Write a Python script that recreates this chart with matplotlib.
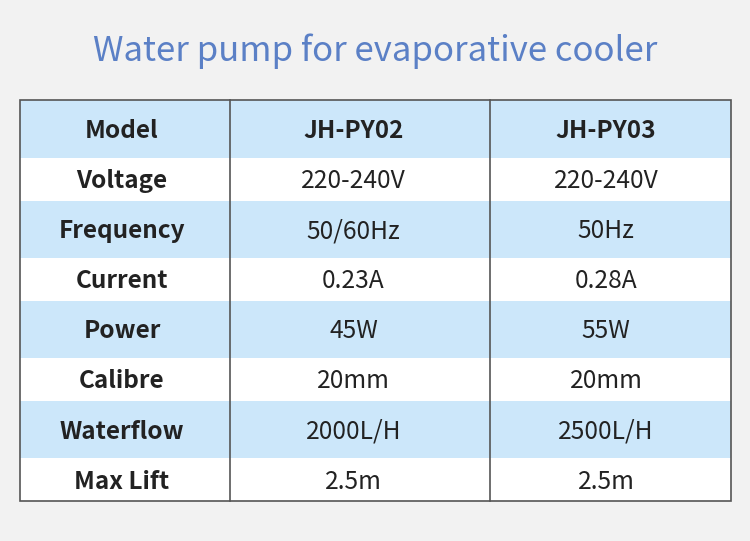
import matplotlib
matplotlib.use("Agg")
import matplotlib.pyplot as plt
from matplotlib.patches import Rectangle

title = "Water pump for evaporative cooler"
header = ["Model", "JH-PY02", "JH-PY03"]
row_labels = ["Voltage", "Frequency", "Current", "Power", "Calibre", "Waterflow", "Max Lift"]
py02 = ["220-240V", "50/60Hz", "0.23A", "45W", "20mm", "2000L/H", "2.5m"]
py03 = ["220-240V", "50Hz", "0.28A", "55W", "20mm", "2500L/H", "2.5m"]

plt.rcParams['font.family'] = ['Noto Sans CJK SC', 'DejaVu Sans']

W, H = 750, 541
fig = plt.figure(figsize=(W / 100, H / 100), dpi=100, facecolor="#F2F2F2")
ax = fig.add_axes([0, 0, 1, 1])
ax.set_xlim(0, W)
ax.set_ylim(H, 0)
ax.axis("off")

left, right = 19.5, 730.5
top, bottom = 99.5, 500.5
col_edges = [left, 229.5, 489.5, right]
text_x = [122, 353.5, 606]
n_rows = 1 + len(row_labels)
first_center = 129.0
row_step = 50.1
blue = "#CCE7FA"
white = "#FFFFFF"
txt = "#222222"
border = "#555555"

ax.text(W / 2, 61, title, ha="center", va="baseline", fontsize=25,
        color="#5B80C6", fontweight="normal")

# background
ax.add_patch(Rectangle((left, top), right - left, bottom - top, facecolor=blue, edgecolor="none"))
white_h = 43
for i in range(n_rows):
    cy = first_center + row_step * i
    if i % 2 == 1:
        y0 = cy - white_h / 2
        h = min(white_h, bottom - y0)
        ax.add_patch(Rectangle((left, y0), right - left, h,
                               facecolor=white, edgecolor="none"))

rows = [header] + [[row_labels[i], py02[i], py03[i]] for i in range(len(row_labels))]
for i, row in enumerate(rows):
    cy = first_center + row_step * i
    for j, val in enumerate(row):
        bold = (i == 0) or (j == 0)
        ax.text(text_x[j], cy + 9, val, ha="center", va="baseline",
                fontsize=17.5 if bold else 17.7, fontweight="bold" if bold else "normal",
                color=txt)

# borders
ax.add_patch(Rectangle((left, top), right - left, bottom - top, facecolor="none",
                       edgecolor=border, linewidth=1.2))
for x in col_edges[1:-1]:
    ax.plot([x, x], [top, bottom], color=border, linewidth=1.2)

fig.savefig("out.png", dpi=100, facecolor=fig.get_facecolor())
